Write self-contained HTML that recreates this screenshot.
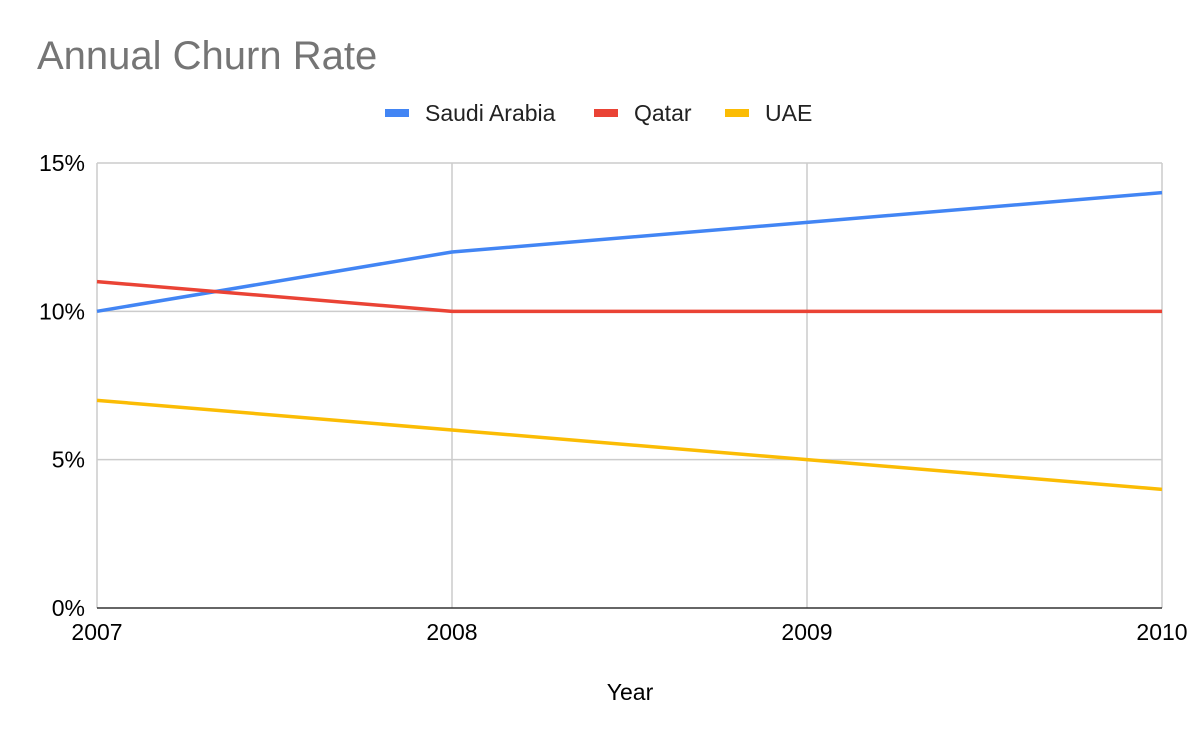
<!DOCTYPE html>
<html><head><meta charset="utf-8"><style>
body{margin:0;background:#fff;}
svg text{font-family:"Liberation Sans",Arial,sans-serif;}
</style></head><body>
<svg width="1200" height="742" viewBox="0 0 1200 742">
<rect width="1200" height="742" fill="#fff"/>
<text x="37" y="69" font-size="40" fill="#757575">Annual Churn Rate</text>
<g id="legend"></g>
<g id="grid"></g>
<g id="series"></g>
<g id="axes"></g>
<text x="630" y="700" font-size="23" fill="#000" text-anchor="middle">Year</text>
</svg>
<script>
const years = ["2007","2008","2009","2010"];
const yTicks = [0,5,10,15];
const saudi = [10,12,13,14];
const qatar = [11,10,10,10];
const uae = [7,6,5,4];
const seriesNames = ["Saudi Arabia","Qatar","UAE"];
const seriesColors = ["#4285f4","#ea4335","#fbbc04"];
const NS="http://www.w3.org/2000/svg";
const X0=97,X1=1162,Y0=608,Y1=163,YMAX=15;
const xs=i=>X0+(X1-X0)*i/(years.length-1);
const ys=v=>Y0-(Y0-Y1)*v/YMAX;
function mk(tag,attrs,parent){const e=document.createElementNS(NS,tag);for(const k in attrs)e.setAttribute(k,attrs[k]);parent.appendChild(e);return e;}
const grid=document.getElementById('grid'),axes=document.getElementById('axes'),ser=document.getElementById('series'),leg=document.getElementById('legend');
yTicks.forEach(t=>{
  if(t>0){const l=mk('line',{x1:X0,x2:X1,y1:ys(t),y2:ys(t),stroke:'#cccccc','stroke-width':1.5},grid);
  
  }
  const tx=mk('text',{x:85,y:ys(t)+8,'font-size':23,'text-anchor':'end',fill:'#000'},axes);
  tx.textContent=t+'%';
  
  
});
years.forEach((y,i)=>{
  const l=mk('line',{x1:xs(i),x2:xs(i),y1:Y1,y2:Y0,stroke:'#cccccc','stroke-width':1.5},grid);
  
  
  const tx=mk('text',{x:xs(i),y:640,'font-size':23,'text-anchor':'middle',fill:'#000'},axes);
  tx.textContent=y;
  
  
});
const base=mk('line',{x1:X0,x2:X1,y1:Y0,y2:Y0,stroke:'#333','stroke-width':1.5},axes);


[saudi,qatar,uae].forEach((d,si)=>{
  const p=mk('polyline',{points:d.map((v,i)=>xs(i)+','+ys(v)).join(' '),fill:'none',stroke:seriesColors[si],'stroke-width':3.5,'stroke-linejoin':'round'},ser);
  
  
});
const legX=[385,594,725];
seriesNames.forEach((n,i)=>{
  const r=mk('rect',{x:legX[i],y:109,width:24,height:8,fill:seriesColors[i]},leg);
  
  
  const t=mk('text',{x:legX[i]+40,y:121,'font-size':23,fill:'#222'},leg);
  t.textContent=n;
  
  
});
</script>
</body></html>
